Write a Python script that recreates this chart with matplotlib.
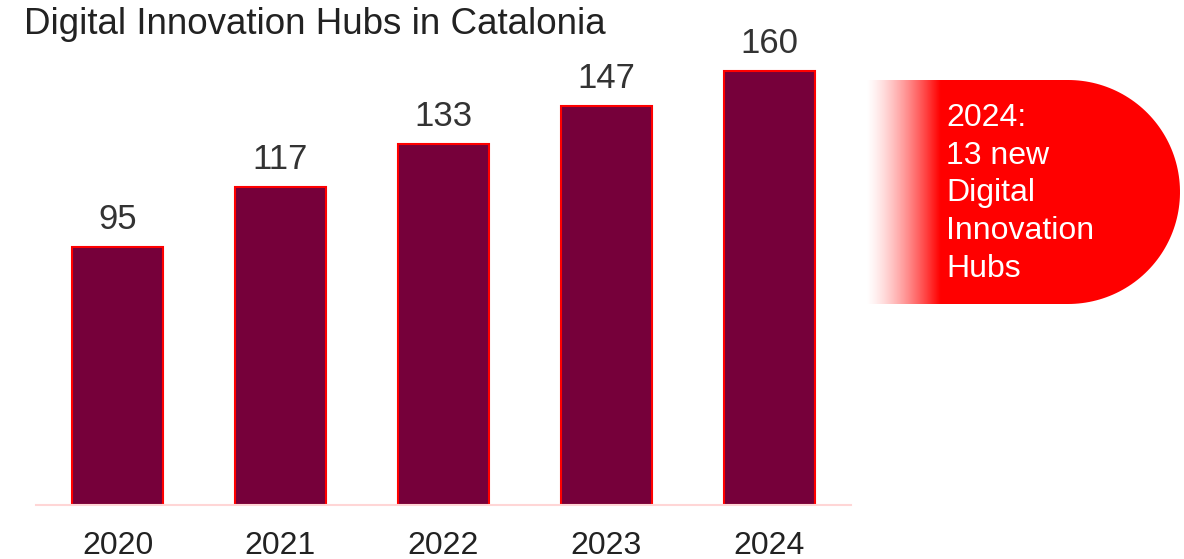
import matplotlib
matplotlib.use('Agg')
import matplotlib.pyplot as plt
from matplotlib.patches import Polygon
import numpy as np

plt.rcParams['font.family'] = ['Liberation Sans', 'DejaVu Sans']

# data
years = ['2020', '2021', '2022', '2023', '2024']
hubs = [95, 117, 133, 147, 160]
title = 'Digital Innovation Hubs in Catalonia'
callout_lines = ['2024:', '13 new', 'Digital', 'Innovation', 'Hubs']

W, H = 1184, 559
BAR_COLOR = '#76003a'
RED = '#ff0000'
TEXT = '#333333'

fig = plt.figure(figsize=(W / 100, H / 100), dpi=100)
ax = fig.add_axes([36 / W, (H - 505) / H, 815 / W, 475 / H])

x = np.arange(len(years))
ax.bar(x, hubs, width=0.56, color=BAR_COLOR, edgecolor=RED, linewidth=1.5, zorder=2)
for xi, v in zip(x, hubs):
    ax.annotate(str(v), (xi, v), xytext=(0, 13), textcoords='offset points',
                ha='center', va='baseline', fontsize=25, color=TEXT)

ax.set_xlim(-0.5, 4.5)
ax.set_ylim(0, 175)
ax.set_xticks(x)
ax.set_xticklabels(years, fontsize=23, color='#222222')
ax.tick_params(axis='x', length=0, pad=18.5)
ax.set_yticks([])
for s in ('top', 'right', 'left'):
    ax.spines[s].set_visible(False)
ax.spines['bottom'].set_color('#ffd6d6')
ax.spines['bottom'].set_linewidth(1.5)

fig.text(24 / W, (H - 34) / H, title, fontsize=26.5, color='#222222',
         ha='left', va='baseline')

# red callout on the right, fading in from the left
ov = fig.add_axes([0, 0, 1, 1], zorder=3)
ov.set_xlim(0, W)
ov.set_ylim(H, 0)
ov.axis('off')
top, bot, cx = 80, 304, 1068
r = (bot - top) / 2
t = np.linspace(-np.pi / 2, np.pi / 2, 100)
pts = [(865, top)] + list(zip(cx + r * np.cos(t), (top + r) + r * np.sin(t))) + [(865, bot)]
shape = Polygon(pts, closed=True, facecolor='none', edgecolor='none')
ov.add_patch(shape)
gx = np.linspace(865, W, 400)
alpha = np.clip((gx - 865) / (940 - 865), 0, 1) ** 1.4
grad = np.zeros((2, len(gx), 4))
grad[..., 0] = 1.0
grad[..., 3] = alpha
im = ov.imshow(grad, extent=(865, W, bot, top), aspect='auto', interpolation='bilinear')
im.set_clip_path(shape)
ov.set_xlim(0, W)
ov.set_ylim(H, 0)

for i, line in enumerate(callout_lines):
    ov.text(946, 126 + i * 37.7, line, fontsize=23, color='white',
            ha='left', va='baseline')

fig.savefig('out.png', dpi=100, facecolor='white')
